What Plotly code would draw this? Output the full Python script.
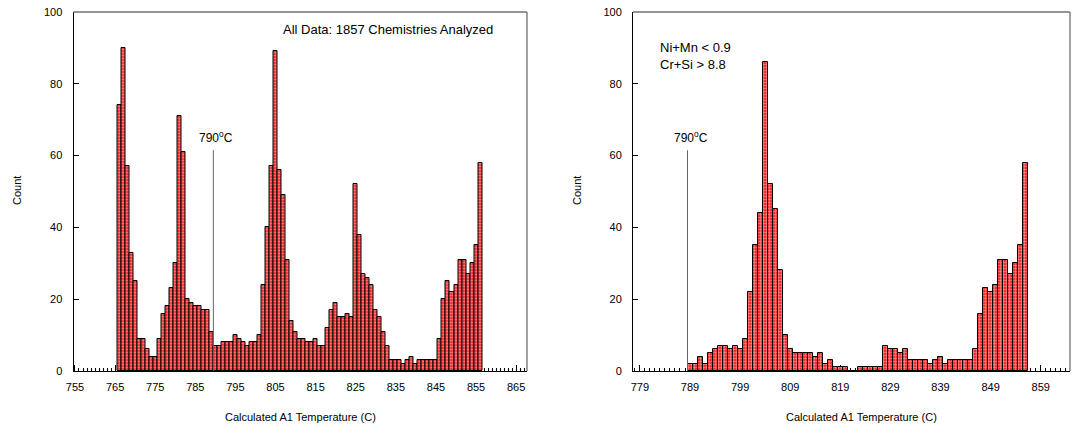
import plotly.graph_objects as go

# ---------------- data ----------------
# Left panel: all data, 1-degree bins centred on integers 766..856
left_bin_centers = list(range(766, 857))
left_counts = [74, 90, 57, 33, 25, 9, 9, 6, 4, 4,
               9, 16, 18, 23, 30, 71, 61, 20, 19, 18,
               18, 17, 17, 11, 7, 7, 8, 8, 8, 10,
               9, 8, 7, 8, 8, 10, 24, 40, 57, 89,
               56, 49, 31, 14, 11, 9, 9, 8, 8, 9,
               7, 7, 12, 17, 19, 15, 15, 16, 15, 52,
               38, 27, 26, 24, 17, 15, 11, 7, 3, 3,
               3, 2, 3, 4, 2, 3, 3, 3, 3, 3,
               9, 20, 25, 22, 24, 31, 31, 27, 30, 35, 58]

# Right panel: Ni+Mn < 0.9, Cr+Si > 8.8, bins centred on integers 789..856
right_bin_centers = list(range(789, 857))
right_counts = [2, 2, 4, 2, 5, 6, 7, 7, 6, 7,
                6, 9, 22, 35, 44, 86, 52, 45, 28, 10,
                6, 5, 5, 5, 5, 4, 5, 2, 3, 1,
                1, 1, 0, 0, 1, 1, 1, 1, 1, 7,
                6, 6, 5, 6, 3, 3, 3, 3, 2, 3,
                4, 2, 3, 3, 3, 3, 3, 6, 16, 23,
                22, 24, 31, 31, 27, 30, 35, 58]

left_ticks = [755, 765, 775, 785, 795, 805, 815, 825, 835, 845, 855, 865]
right_ticks = [779, 789, 799, 809, 819, 829, 839, 849, 859]
y_ticks = [0, 20, 40, 60, 80, 100]

x_title = "Calculated A1 Temperature (C)"
y_title = "Count"
left_note = "All Data: 1857 Chemistries Analyzed"
right_note = "Ni+Mn < 0.9<br>Cr+Si > 8.8"
line_label = "790<sup>o</sup>C"
left_line_x = 789.5
right_line_x = 788.5

# ---------------- styling ----------------
W, H = 1076, 428
FONT = "Arial, Liberation Sans, Helvetica, sans-serif"

def px_x(p):
    return p / W

def px_y(p):
    return 1 - p / H

bar_marker = dict(
    color="#ee1111",
    line=dict(color="black", width=1),
    pattern=dict(shape=".", fgcolor="white", bgcolor="#ee1111", size=3, solidity=0.5),
)

fig = go.Figure()
fig.add_trace(go.Bar(x=left_bin_centers, y=left_counts, width=1, marker=bar_marker,
                     xaxis="x", yaxis="y", showlegend=False, hoverinfo="skip"))
fig.add_trace(go.Bar(x=right_bin_centers, y=right_counts, width=1, marker=bar_marker,
                     xaxis="x2", yaxis="y2", showlegend=False, hoverinfo="skip"))

PLOT_TOP, PLOT_BOT = 12, 371
LEFT_X0, LEFT_X1 = 73.5, 527
RIGHT_X0, RIGHT_X1 = 633, 1070

ydom = [px_y(PLOT_BOT), px_y(PLOT_TOP)]
common_x = dict(
    showgrid=False, zeroline=False, showline=True, linecolor="black", linewidth=1,
    ticks="inside", ticklen=6, tickcolor="black", tickwidth=1,
    minor=dict(dtick=1, ticks="inside", ticklen=3, tickcolor="black", tickwidth=1),
    tickfont=dict(family=FONT, size=11, color="black"),
    ticklabelstandoff=6, layer="below traces", automargin=False,
    ticklabeloverflow="allow",
)
common_y = dict(
    range=[0, 100], showgrid=False, zeroline=False, showline=True, linecolor="black",
    linewidth=1, ticks="inside", ticklen=5, tickcolor="black", tickwidth=1,
    tickvals=y_ticks, tickfont=dict(family=FONT, size=11, color="black"),
    ticklabelstandoff=8, layer="below traces", automargin=False,
    ticklabeloverflow="allow",
)

fig.update_layout(
    width=W, height=H,
    margin=dict(l=0, r=0, t=0, b=0, autoexpand=False),
    paper_bgcolor="white", plot_bgcolor="white",
    bargap=0,
    font=dict(family=FONT, size=11, color="black"),
    xaxis=dict(domain=[px_x(LEFT_X0), px_x(LEFT_X1)], range=[754.63, 867.7],
               tickvals=left_ticks, anchor="y", **common_x),
    yaxis=dict(domain=ydom, anchor="x", **common_y),
    xaxis2=dict(domain=[px_x(RIGHT_X0), px_x(RIGHT_X1)], range=[777.62, 864.85],
                tickvals=right_ticks, anchor="y2", **common_x),
    yaxis2=dict(domain=ydom, anchor="x2", **common_y),
)

# top / right frame lines (grey), in paper coordinates so they are not clipped
for x0, x1 in ((LEFT_X0, LEFT_X1), (RIGHT_X0, RIGHT_X1)):
    fig.add_shape(type="line", xref="paper", yref="paper",
                  x0=px_x(x0), x1=px_x(x1), y0=px_y(PLOT_TOP), y1=px_y(PLOT_TOP),
                  line=dict(color="#707070", width=1.3))
    fig.add_shape(type="line", xref="paper", yref="paper",
                  x0=px_x(x1), x1=px_x(x1), y0=px_y(PLOT_BOT), y1=px_y(PLOT_TOP),
                  line=dict(color="#707070", width=1.3))

# 790 C marker lines
for xa, ya, lx in (("x", "y", left_line_x), ("x2", "y2", right_line_x)):
    fig.add_shape(type="line", xref=xa, yref=ya, x0=lx, x1=lx, y0=0, y1=61.5,
                  line=dict(color="#666666", width=1))
    fig.add_annotation(xref=xa, yref=ya, x=lx + 0.6, y=65.3, text=line_label,
                       showarrow=False, xanchor="center", yanchor="middle",
                       font=dict(family=FONT, size=12, color="black"))

# notes
fig.add_annotation(xref="paper", yref="paper", x=px_x(388), y=px_y(29.5),
                   text=left_note, showarrow=False, xanchor="center", yanchor="middle",
                   font=dict(family=FONT, size=13, color="black"))
fig.add_annotation(xref="paper", yref="paper", x=px_x(658), y=px_y(56),
                   text=right_note, showarrow=False, xanchor="left", yanchor="middle",
                   align="left", font=dict(family=FONT, size=13, color="black"))

# axis titles
for cx in (300, 861):
    fig.add_annotation(xref="paper", yref="paper", x=px_x(cx), y=px_y(417),
                       text=x_title, showarrow=False, xanchor="center", yanchor="middle",
                       font=dict(family=FONT, size=11, color="black"))
for cx in (17, 577):
    fig.add_annotation(xref="paper", yref="paper", x=px_x(cx), y=px_y(191),
                       text=y_title, showarrow=False, xanchor="center", yanchor="middle",
                       textangle=-90, font=dict(family=FONT, size=11, color="black"))

# remove the browser's default page margin so the figure fills the window exactly
fig.write_html(
    "out.html",
    config={"displayModeBar": False},
    post_script="document.body.style.margin='0';document.body.style.overflow='hidden';",
)
